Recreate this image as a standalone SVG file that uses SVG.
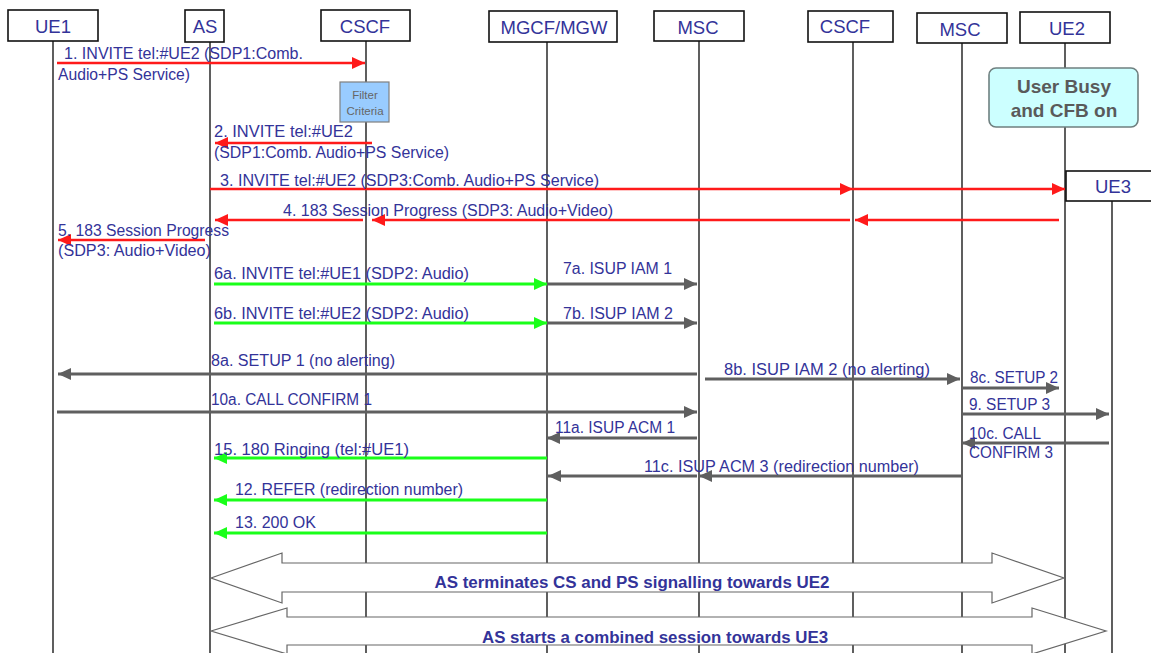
<svg xmlns="http://www.w3.org/2000/svg" width="1151" height="653" viewBox="0 0 1151 653">
<style>
.box{fill:#fff;stroke:#111;stroke-width:1.6}
.hd{font-family:"Liberation Sans",Arial,sans-serif;font-size:18.5px;fill:#333399;text-anchor:middle}
.life{stroke:#1a1a1a;stroke-width:1.4}
.t{font-family:"Liberation Sans",Arial,sans-serif;font-size:16px;fill:#333399}
.red{stroke:#ff1a1a;stroke-width:2.6;fill:none}
.grn{stroke:#1aff1a;stroke-width:3;fill:none}
.gry{stroke:#5f5f5f;stroke-width:3;fill:none}
.big{fill:#fff;stroke:#666;stroke-width:1.2}
.bt{font-family:"Liberation Sans",Arial,sans-serif;font-size:16px;font-weight:bold;fill:#333399;text-anchor:middle}
</style>
<defs>
<marker id="ar" markerUnits="userSpaceOnUse" markerWidth="14" markerHeight="12" refX="13" refY="6" orient="auto"><path d="M0,0 L13,6 L0,12 Z" fill="#ff1a1a"/></marker>
<marker id="ag" markerUnits="userSpaceOnUse" markerWidth="14" markerHeight="12" refX="13" refY="6" orient="auto"><path d="M0,0 L13,6 L0,12 Z" fill="#1aff1a"/></marker>
<marker id="ay" markerUnits="userSpaceOnUse" markerWidth="14" markerHeight="12" refX="13" refY="6" orient="auto"><path d="M0,0 L13,6 L0,12 Z" fill="#5f5f5f"/></marker>
</defs>
<rect width="1151" height="653" fill="#fff"/>

<g id="lifelines">
<line class="life" x1="53" y1="41" x2="53" y2="653"/>
<line class="life" x1="210" y1="42" x2="210" y2="653"/>
<line class="life" x1="366" y1="41" x2="366" y2="653"/>
<line class="life" x1="547" y1="42" x2="547" y2="653"/>
<line class="life" x1="699" y1="41" x2="699" y2="653"/>
<line class="life" x1="853" y1="42" x2="853" y2="653"/>
<line class="life" x1="962" y1="43" x2="962" y2="653"/>
<line class="life" x1="1065" y1="43" x2="1065" y2="653"/>
<line class="life" x1="1112" y1="201" x2="1112" y2="653"/>
</g>

<g id="UE1"><rect class="box" x="8" y="10" width="90" height="31"/><text class="hd" x="53" y="33">UE1</text></g>
<g id="AS"><rect class="box" x="185" y="10" width="39" height="32"/><text class="hd" x="205" y="33">AS</text></g>
<g id="CSCF1"><rect class="box" x="321" y="10" width="89" height="31"/><text class="hd" x="365" y="33">CSCF</text></g>
<g id="MGCF"><rect class="box" x="489" y="11" width="128" height="31"/><text class="hd" x="554" y="34">MGCF/MGW</text></g>
<g id="MSC1"><rect class="box" x="654" y="11" width="90" height="30"/><text class="hd" x="698" y="34">MSC</text></g>
<g id="CSCF2"><rect class="box" x="808" y="11" width="85" height="31"/><text class="hd" x="845" y="33">CSCF</text></g>
<g id="MSC2"><rect class="box" x="917" y="13" width="90" height="30"/><text class="hd" x="960" y="36">MSC</text></g>
<g id="UE2"><rect class="box" x="1020" y="12" width="90" height="31"/><text class="hd" x="1067" y="35">UE2</text></g>
<g id="UE3"><rect class="box" x="1066" y="171" width="90" height="30"/><text class="hd" x="1113" y="193">UE3</text></g>

<g id="filter"><rect x="340" y="82" width="49" height="40" fill="#99ccff" stroke="#7f7f7f" stroke-width="1.2"/>
<text x="365" y="99" font-family="Liberation Sans,Arial,sans-serif" font-size="11.5" fill="#666" text-anchor="middle">Filter</text>
<text x="365" y="115" font-family="Liberation Sans,Arial,sans-serif" font-size="11.5" fill="#666" text-anchor="middle">Criteria</text></g>

<g id="busy"><rect x="989" y="68" width="149" height="59" rx="7" fill="#ccffff" stroke="#6f8080" stroke-width="1.6"/>
<text x="1064" y="93" font-family="Liberation Sans,Arial,sans-serif" font-size="19px" font-weight="bold" fill="#5a5a5a" text-anchor="middle">User Busy</text>
<text x="1064" y="117" font-family="Liberation Sans,Arial,sans-serif" font-size="19px" font-weight="bold" fill="#5a5a5a" text-anchor="middle">and CFB on</text></g>

<g id="connectors">
<line class="red" x1="57" y1="63" x2="365" y2="63" marker-end="url(#ar)"/>
<line class="red" x1="372" y1="143" x2="215" y2="143" marker-end="url(#ar)"/>
<line class="red" x1="210" y1="189" x2="853" y2="189" marker-end="url(#ar)"/>
<line class="red" x1="853" y1="189" x2="1065" y2="189" marker-end="url(#ar)"/>
<line class="red" x1="1059" y1="220" x2="855" y2="220" marker-end="url(#ar)"/>
<line class="red" x1="850" y1="220" x2="372" y2="220" marker-end="url(#ar)"/>
<line class="red" x1="363" y1="220" x2="215" y2="220" marker-end="url(#ar)"/>
<line class="red" x1="205" y1="240" x2="58" y2="240" marker-end="url(#ar)"/>
<line class="grn" x1="214" y1="284" x2="547" y2="284" marker-end="url(#ag)"/>
<line class="gry" x1="547" y1="284" x2="697" y2="284" marker-end="url(#ay)"/>
<line class="grn" x1="214" y1="323" x2="547" y2="323" marker-end="url(#ag)"/>
<line class="gry" x1="547" y1="323" x2="697" y2="323" marker-end="url(#ay)"/>
<line class="gry" x1="697" y1="374" x2="58" y2="374" marker-end="url(#ay)"/>
<line class="gry" x1="705" y1="379" x2="960" y2="379" marker-end="url(#ay)"/>
<line class="gry" x1="962" y1="388" x2="1059" y2="388" marker-end="url(#ay)"/>
<line class="gry" x1="57" y1="412" x2="697" y2="412" marker-end="url(#ay)"/>
<line class="gry" x1="962" y1="414" x2="1109" y2="414" marker-end="url(#ay)"/>
<line class="gry" x1="697" y1="438" x2="547" y2="438" marker-end="url(#ay)"/>
<line class="gry" x1="1109" y1="443" x2="962" y2="443" marker-end="url(#ay)"/>
<line class="grn" x1="547" y1="458" x2="214" y2="458" marker-end="url(#ag)"/>
<line class="gry" x1="961" y1="476" x2="699" y2="476" marker-end="url(#ay)"/>
<line class="gry" x1="697" y1="476" x2="548" y2="476" marker-end="url(#ay)"/>
<line class="grn" x1="547" y1="500" x2="214" y2="500" marker-end="url(#ag)"/>
<line class="grn" x1="547" y1="533" x2="214" y2="533" marker-end="url(#ag)"/>
<path class="big" d="M211,578 L282,553 L282,563 L992,563 L992,553 L1064,578 L992,603 L992,592 L282,592 L282,603 Z"/>
<path class="big" d="M211,631 L287,608 L287,617 L1032,617 L1032,608 L1106,631 L1032,654 L1032,645 L287,645 L287,654 Z"/>
</g>

<g id="labels">
<text class="t" x="64" y="59" textLength="239" lengthAdjust="spacingAndGlyphs">1. INVITE tel:#UE2 (SDP1:Comb.</text>
<text class="t" x="58" y="80" textLength="132" lengthAdjust="spacingAndGlyphs">Audio+PS Service)</text>
<text class="t" x="214" y="137" textLength="139" lengthAdjust="spacingAndGlyphs">2. INVITE tel:#UE2</text>
<text class="t" x="214" y="158" textLength="235" lengthAdjust="spacingAndGlyphs">(SDP1:Comb. Audio+PS Service)</text>
<text class="t" x="220" y="186" textLength="379" lengthAdjust="spacingAndGlyphs">3. INVITE tel:#UE2 (SDP3:Comb. Audio+PS Service)</text>
<text class="t" x="283" y="216" textLength="330" lengthAdjust="spacingAndGlyphs">4. 183 Session Progress (SDP3: Audio+Video)</text>
<text class="t" x="58" y="236" textLength="171" lengthAdjust="spacingAndGlyphs">5. 183 Session Progress</text>
<text class="t" x="58" y="256" textLength="153" lengthAdjust="spacingAndGlyphs">(SDP3: Audio+Video)</text>
<text class="t" x="214" y="279" textLength="255" lengthAdjust="spacingAndGlyphs">6a. INVITE tel:#UE1 (SDP2: Audio)</text>
<text class="t" x="563" y="274" textLength="109" lengthAdjust="spacingAndGlyphs">7a. ISUP IAM 1</text>
<text class="t" x="214" y="319" textLength="255" lengthAdjust="spacingAndGlyphs">6b. INVITE tel:#UE2 (SDP2: Audio)</text>
<text class="t" x="563" y="319" textLength="110" lengthAdjust="spacingAndGlyphs">7b. ISUP IAM 2</text>
<text class="t" x="211" y="366" textLength="184" lengthAdjust="spacingAndGlyphs">8a. SETUP 1 (no alerting)</text>
<text class="t" x="724" y="375" textLength="206" lengthAdjust="spacingAndGlyphs">8b. ISUP IAM 2 (no alerting)</text>
<text class="t" x="970" y="383" textLength="88" lengthAdjust="spacingAndGlyphs">8c. SETUP 2</text>
<text class="t" x="211" y="405" textLength="161" lengthAdjust="spacingAndGlyphs">10a. CALL CONFIRM 1</text>
<text class="t" x="969" y="410" textLength="81" lengthAdjust="spacingAndGlyphs">9. SETUP 3</text>
<text class="t" x="555" y="433" textLength="120" lengthAdjust="spacingAndGlyphs">11a. ISUP ACM 1</text>
<text class="t" x="969" y="439" textLength="72" lengthAdjust="spacingAndGlyphs">10c. CALL</text>
<text class="t" x="969" y="458" textLength="84" lengthAdjust="spacingAndGlyphs">CONFIRM 3</text>
<text class="t" x="214" y="455" textLength="195" lengthAdjust="spacingAndGlyphs">15. 180 Ringing (tel:#UE1)</text>
<text class="t" x="644" y="472" textLength="275" lengthAdjust="spacingAndGlyphs">11c. ISUP ACM 3 (redirection number)</text>
<text class="t" x="235" y="495" textLength="228" lengthAdjust="spacingAndGlyphs">12. REFER (redirection number)</text>
<text class="t" x="235" y="528" textLength="81" lengthAdjust="spacingAndGlyphs">13. 200 OK</text>
<text class="bt" x="632" y="588" textLength="395" lengthAdjust="spacingAndGlyphs">AS terminates CS and PS signalling towards UE2</text>
<text class="bt" x="655" y="643" textLength="346" lengthAdjust="spacingAndGlyphs">AS starts a combined session towards UE3</text>
</g>
</svg>
